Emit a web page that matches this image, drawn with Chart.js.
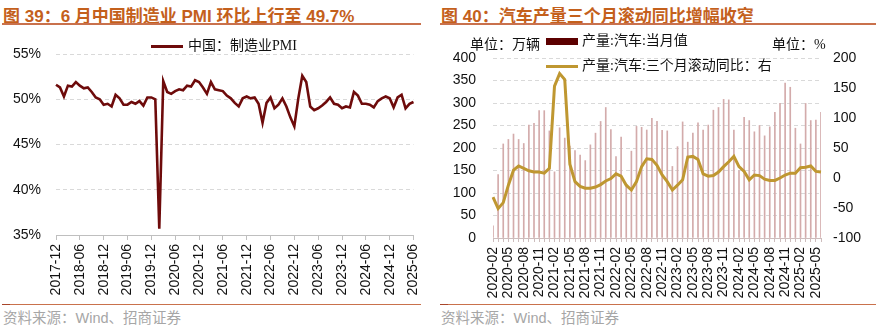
<!DOCTYPE html>
<html>
<head>
<meta charset="utf-8">
<script src="https://cdn.jsdelivr.net/npm/chart.js@4.4.1/dist/chart.umd.min.js"></script>
<style>
  html, body { margin: 0; padding: 0; background: #fff; }
  #page { position: relative; width: 876px; height: 327px; overflow: hidden; background: #fff;
          font-family: "Liberation Sans", "Noto Sans CJK SC", sans-serif; }
  .title { position: absolute; top: 2px; font-size: 17px; font-weight: bold; color: #C4601C; white-space: nowrap; }
  .rule { position: absolute; background: #C9714C; }
  .rule-dark { position: absolute; background: #A8462A; }
  .source { position: absolute; top: 306px; font-size: 14.5px; color: #A6A6A6; white-space: nowrap; }
  .lg { position: absolute; font-size: 14px; color: #111; white-space: nowrap; line-height: 16px;
        font-family: "Liberation Serif", "Noto Sans CJK SC", serif; }
  .sw { position: absolute; }
  canvas { position: absolute; }
</style>
</head>
<body>
<div id="page">
  <div class="title" style="left:3px;">图 39：6 月中国制造业 PMI 环比上行至 49.7%</div>
  <div class="rule" style="left:2px; top:22.5px; width:419px; height:2px;"></div>
  <div class="title" style="left:441px;">图 40：汽车产量三个月滚动同比增幅收窄</div>
  <div class="rule" style="left:440px; top:22.5px; width:436px; height:2px;"></div>

  <canvas id="pmi" width="438" height="275" style="left:0; top:30px;"></canvas>
  <canvas id="auto" width="438" height="275" style="left:438px; top:30px;"></canvas>

  <!-- legend, left panel -->
  <div class="sw" style="left:151px; top:44.5px; width:32px; height:3px; background:#6E0B0B;"></div>
  <div class="lg" style="left:188px; top:38px;">中国：制造业PMI</div>

  <!-- units and legend, right panel -->
  <div class="lg" style="left:470px; top:37px;">单位：万辆</div>
  <div class="lg" style="left:772px; top:37px;">单位：%</div>
  <div class="sw" style="left:546px; top:38px; width:32px; height:7px; background:#5C0000;"></div>
  <div class="lg" style="left:582px; top:33px;">产量:汽车:当月值</div>
  <div class="sw" style="left:546px; top:65px; width:32px; height:3px; background:#BF9731;"></div>
  <div class="lg" style="left:582px; top:58px;">产量:汽车:三个月滚动同比：右</div>

  <div class="rule" style="left:2px; top:303.5px; width:419px; height:1.5px;"></div>
  <div class="rule-dark" style="left:2px; top:303.5px; width:8px; height:1.5px;"></div>
  <div class="rule" style="left:440px; top:303.5px; width:436px; height:1.5px;"></div>
  <div class="rule-dark" style="left:440px; top:303.5px; width:8px; height:1.5px;"></div>
  <div class="source" style="left:3px;">资料来源：Wind、招商证券</div>
  <div class="source" style="left:441px;">资料来源：Wind、招商证券</div>
</div>

<script>
// Month labels "YYYY-MM" from a start month to an end month, inclusive.
function monthRange(startY, startM, endY, endM) {
  const out = [];
  let y = startY, m = startM;
  while (y < endY || (y === endY && m <= endM)) {
    out.push(y + '-' + String(m).padStart(2, '0'));
    m++;
    if (m > 12) { m = 1; y++; }
  }
  return out;
}

// China manufacturing PMI (%), 2017-12 .. 2025-06
const pmiMonths = monthRange(2017, 12, 2025, 6);
const pmiValues = [
  51.6,
  51.3, 50.3, 51.5, 51.4, 51.9, 51.5, 51.2, 51.3, 50.8, 50.2, 50.0, 49.4,
  49.5, 49.2, 50.5, 50.1, 49.4, 49.4, 49.7, 49.5, 49.8, 49.3, 50.2, 50.2,
  50.0, 35.7, 52.0, 50.8, 50.6, 50.9, 51.1, 51.0, 51.5, 51.4, 52.1, 51.9,
  51.3, 50.6, 51.9, 51.1, 51.0, 50.9, 50.4, 50.1, 49.6, 49.2, 50.1, 50.3,
  50.1, 50.2, 49.5, 47.4, 49.6, 50.2, 49.0, 49.4, 50.1, 49.2, 48.0, 47.0,
  50.1, 52.6, 51.9, 49.2, 48.8, 49.0, 49.3, 49.7, 50.2, 49.5, 49.4, 49.0,
  49.2, 49.1, 50.8, 50.4, 49.5, 49.5, 49.4, 49.1, 49.8, 50.1, 50.3, 50.1,
  49.1, 50.2, 50.5, 49.0, 49.5, 49.7
];
const pmiTickEvery = 6;

// Auto output, 2020-02 .. 2025-06
const autoMonths = monthRange(2020, 2, 2025, 6);
// monthly output, 10k vehicles
const autoOutput = [
  27, 141, 209, 219, 231, 219, 210, 251, 255, 283, 283,
  238, 147, 245, 222, 204, 194, 184, 172, 207, 233, 259, 290,
  241, 181, 224, 120, 193, 248, 246, 240, 266, 259, 239, 238,
  159, 203, 258, 213, 233, 256, 240, 251, 284, 290, 308, 307,
  240, 150, 268, 261, 236, 250, 227, 247, 279, 299, 344, 335,
  244, 209, 299, 261, 262, 279
];
// 3-month rolling YoY, %
const autoYoY3m = [
  -32, -51, -41, -12, 13, 20, 16, 12, 10, 10, 8,
  16, 153, 174, 164, 23, -6, -14, -17, -17, -15, -11, -5,
  -1, 7, 3, -12, -20, -6, 19, 32, 31, 21, 5, -6,
  -20, -12, -3, 35, 36, 31, 7, 3, 4, 10, 19, 27,
  36, 19, 11, -3, 5, 4, -2, -4, -4, 0, 5, 8,
  8, 17, 18, 20, 11, 10
];
const autoTickEvery = 3;

const tickFont = { family: '"Liberation Sans", Arial, sans-serif', size: 14 };
const tickColor = '#111';
const gridGrey = '#D9D9D9';
const clear = 'rgba(0,0,0,0)';

// Left panel: PMI line
new Chart(document.getElementById('pmi'), {
  type: 'line',
  data: {
    labels: pmiMonths,
    datasets: [{
      label: '中国：制造业PMI',
      data: pmiValues,
      borderColor: '#6E0B0B',
      borderWidth: 2.6,
      pointRadius: 0,
      tension: 0,
      fill: false
    }]
  },
  options: {
    responsive: false,
    animation: false,
    devicePixelRatio: 1,
    layout: { padding: { top: 24, right: 24.5, left: 0, bottom: 0 } },
    plugins: { legend: { display: false }, tooltip: { enabled: false } },
    scales: {
      x: {
        type: 'category',
        offset: false,
        grid: {
          display: true, drawOnChartArea: false, drawTicks: true, tickLength: 5,
          color: '#BFBFBF',
          tickColor: ctx => (ctx.index % pmiTickEvery === 0 ? '#BFBFBF' : clear)
        },
        border: { display: true, color: '#BFBFBF', width: 1 },
        ticks: {
          autoSkip: false, maxRotation: 90, minRotation: 90, padding: 4,
          font: tickFont, color: tickColor,
          callback: (v, i) => (i % pmiTickEvery === 0 ? pmiMonths[i] : '')
        },
        afterFit: s => { s.height = 70; }
      },
      y: {
        min: 35, max: 55,
        ticks: { stepSize: 5, padding: 15, font: tickFont, color: tickColor, callback: v => v + '%' },
        grid: { color: gridGrey, drawTicks: false, lineWidth: 1 },
        border: { display: false, dash: [4, 3] },
        afterFit: s => { s.width = 56; }
      }
    }
  }
});

// Right panel: monthly output bars + 3-month rolling YoY line
new Chart(document.getElementById('auto'), {
  data: {
    labels: autoMonths,
    datasets: [
      {
        type: 'line',
        label: '产量:汽车:三个月滚动同比：右',
        data: autoYoY3m,
        yAxisID: 'y1',
        borderColor: '#BF9731',
        borderWidth: 3,
        pointRadius: 0,
        tension: 0,
        fill: false,
        order: 0
      },
      {
        type: 'bar',
        label: '产量:汽车:当月值',
        data: autoOutput,
        yAxisID: 'y',
        backgroundColor: '#D3ABAB',
        barThickness: 1,
        order: 1
      }
    ]
  },
  options: {
    responsive: false,
    animation: false,
    devicePixelRatio: 1,
    layout: { padding: { top: 28, right: 0, left: 0, bottom: 0 } },
    plugins: { legend: { display: false }, tooltip: { enabled: false } },
    scales: {
      x: {
        type: 'category',
        offset: false,
        grid: {
          display: true, drawOnChartArea: false, drawTicks: true, tickLength: 4,
          offset: false, color: '#CDBDBD', tickColor: '#CDBDBD'
        },
        border: { display: true, color: '#CDBDBD', width: 1 },
        ticks: {
          autoSkip: false, maxRotation: 90, minRotation: 90, padding: 5,
          font: tickFont, color: tickColor,
          callback: (v, i) => (i % autoTickEvery === 0 ? autoMonths[i] : '')
        },
        afterFit: s => { s.height = 67; }
      },
      y: {
        position: 'left',
        min: 0, max: 400,
        ticks: { stepSize: 50, padding: 17, font: tickFont, color: tickColor },
        grid: { color: gridGrey, drawTicks: false, lineWidth: 1 },
        border: { display: false, dash: [4, 3] },
        afterFit: s => { s.width = 55; }
      },
      y1: {
        position: 'right',
        min: -100, max: 200,
        ticks: { stepSize: 50, padding: 12, font: tickFont, color: tickColor },
        grid: { drawOnChartArea: false, drawTicks: false },
        border: { display: false },
        afterFit: s => { s.width = 55; }
      }
    }
  }
});
</script>
</body>
</html>
